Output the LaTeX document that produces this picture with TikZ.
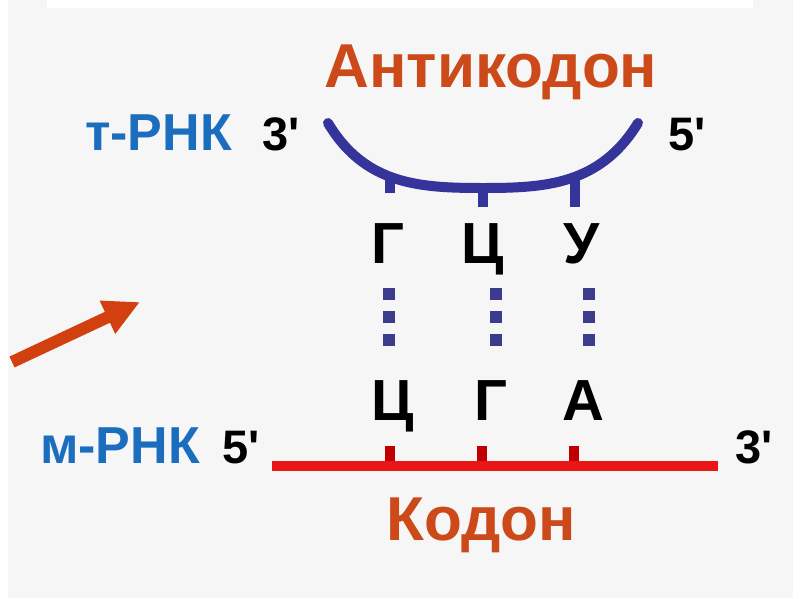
\documentclass[tikz,border=0pt]{standalone}
\usepackage{fontspec}
\setmainfont[Ligatures=NoCommon]{Liberation Sans}
\usetikzlibrary{arrows.meta}

\definecolor{bgpanel}{HTML}{F6F6F6}
\definecolor{labelblue}{HTML}{1B6EBE}
\definecolor{strandblue}{HTML}{34349A}
\definecolor{dotblue}{HTML}{3C3C8C}
\definecolor{titlered}{HTML}{CC4A1A}
\definecolor{mrnared}{HTML}{EA1616}
\definecolor{tickred}{HTML}{C00000}
\definecolor{arrowred}{HTML}{D2400F}

\newcommand{\prm}{\textquotesingle}

\tikzset{
  lbl/.style={inner sep=0pt, anchor=base, font=\bfseries\fontsize{#1}{#1}\selectfont},
  title/.style={lbl=62, text=titlered},
  rnaname/.style={lbl=52, text=labelblue},
  endmark/.style={lbl=47, text=black},
  base/.style={lbl=58, text=black},
  tstrand/.style={draw=strandblue, line width=10pt},
  mstrand/.style={draw=mrnared, line width=10pt},
  mtick/.style={draw=tickred, line width=10pt},
  pairing/.style={draw=dotblue, line width=12pt, dash pattern=on 12pt off 11pt},
  pointer/.style={draw=arrowred, line width=12pt, -{Triangle[length=36pt,width=34pt]}}
}

\begin{document}
\begin{tikzpicture}[x=1pt,y=-1pt]
  % canvas and panel
  \fill[white] (0,0) rectangle (806,598);
  \fill[bgpanel] (8,0) rectangle (793,598);
  \fill[white] (47,0) rectangle (753,8);
  \useasboundingbox (0,0) rectangle (806,598);

  % titles
  \node[title] (anticodon) at (491,87) {Антикодон};
  \node[title] (codon) at (481,540) {Кодон};

  % tRNA labels
  \node[rnaname, anchor=base east] (trna) at (232,150) {т-РНК};
  \node[endmark, anchor=base west] (t3) at (262,150) {3\prm};
  \node[endmark, anchor=base west] (t5) at (668,150) {5\prm};

  % tRNA anticodon loop
  \coordinate (loopL) at (328,123);
  \coordinate (loopM) at (483,188);
  \coordinate (loopR) at (638,123);
  \path[tstrand, line cap=round] (loopL) .. controls (365,185) and (420,188) .. (loopM)
        .. controls (545,188) and (600,185) .. (loopR);
  \coordinate (ta1) at (390,175); \coordinate (tb1) at (390,193);
  \coordinate (ta2) at (483,186); \coordinate (tb2) at (483,207);
  \coordinate (ta3) at (575,177); \coordinate (tb3) at (575,207);
  \path[tstrand] (ta1) -- (tb1) (ta2) -- (tb2) (ta3) -- (tb3);

  % anticodon bases
  \node[base] (ag) at (388,263) {Г};
  \node[base] (ac) at (483,263) {Ц};
  \node[base] (au) at (582,263) {У};

  % hydrogen bonds
  \coordinate (d1a) at (389,288); \coordinate (d1b) at (389,346);
  \coordinate (d2a) at (496,288); \coordinate (d2b) at (496,346);
  \coordinate (d3a) at (589,288); \coordinate (d3b) at (589,346);
  \path[pairing] (d1a) -- (d1b) (d2a) -- (d2b) (d3a) -- (d3b);

  % codon bases
  \node[base] (cc) at (393,420) {Ц};
  \node[base] (cg) at (491,420) {Г};
  \node[base] (ca) at (583,420) {А};

  % mRNA strand
  \node[rnaname, anchor=base east] (mrna) at (200,463) {м-РНК};
  \node[endmark, anchor=base west] (m5) at (222,463) {5\prm};
  \node[endmark, anchor=base west] (m3) at (735,463) {3\prm};
  \coordinate (mL) at (272,466);
  \coordinate (mR) at (718,466);
  \coordinate (ma1) at (390,446); \coordinate (mb1) at (390,466);
  \coordinate (ma2) at (482,446); \coordinate (mb2) at (482,466);
  \coordinate (ma3) at (574,446); \coordinate (mb3) at (574,466);
  \path[mtick] (ma1) -- (mb1) (ma2) -- (mb2) (ma3) -- (mb3);
  \path[mstrand] (mL) -- (mR);

  % pointer arrow
  \coordinate (arrTail) at (12,362);
  \coordinate (arrTip) at (140,302);
  \draw[pointer] (arrTail) -- (arrTip);
\end{tikzpicture}
\end{document}
